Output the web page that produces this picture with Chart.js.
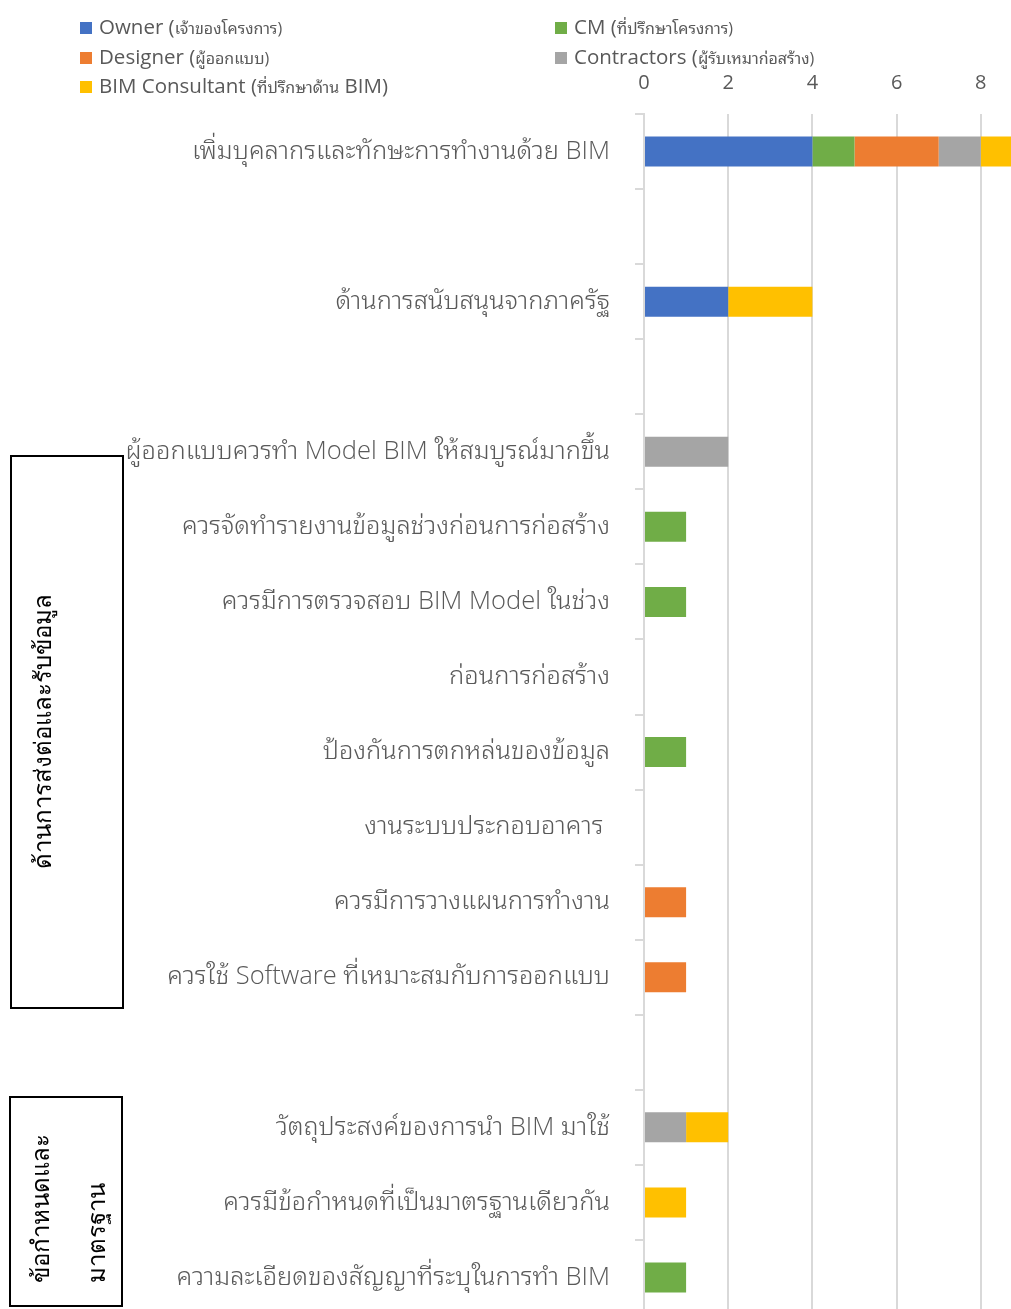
<!DOCTYPE html>
<html>
<head>
<meta charset="utf-8">
<script src="https://cdn.jsdelivr.net/npm/chart.js@4.4.1/dist/chart.umd.min.js"></script>
<style>
  html, body { margin:0; padding:0; background:#fff; }
  body { width:1011px; height:1309px; overflow:hidden; position:relative; font-family:"Open Sans","Noto Sans",sans-serif; }
  #wrap { position:absolute; left:0; top:0; width:1065px; height:1315px; }
  .leg { position:absolute; font-size:20.5px; color:#595959; white-space:nowrap; line-height:24px; }
  .leg .sw { display:inline-block; width:12px; height:12px; margin-right:7px; vertical-align:0px; }
  .leg small { font-size:16px; font-family:"Open Sans","Noto Sans Thai Looped","Noto Sans Thai",sans-serif; }
  .box { position:absolute; border:2px solid #000; box-sizing:border-box; }
  .rt { position:absolute; font-size:24px; line-height:32px; color:#000; white-space:nowrap; transform-origin:0 0; font-family:"Noto Sans","Open Sans",sans-serif; }
</style>
</head>
<body>
<div id="wrap"><canvas id="c"></canvas></div>
<div id="legend"></div>
<div class="box" style="left:10px;top:455px;width:114px;height:554px;"></div>
<div class="rt" id="t1" style="left:26px;top:731px;transform:rotate(-90deg) translateX(-50%);">ด้านการส่งต่อและรับข้อมูล</div>
<div class="box" style="left:9px;top:1096px;width:114px;height:211px;"></div>
<div class="rt" style="left:24px;top:1283px;transform:rotate(-90deg);">ข้อกำหนดและ</div>
<div class="rt" style="left:80px;top:1283px;transform:rotate(-90deg);">มาตรฐาน</div>
<script>
const categories = [
  'เพิ่มบุคลากรและทักษะการทำงานด้วย BIM',
  '',
  'ด้านการสนับสนุนจากภาครัฐ',
  '',
  'ผู้ออกแบบควรทำ Model BIM ให้สมบูรณ์มากขึ้น',
  'ควรจัดทำรายงานข้อมูลช่วงก่อนการก่อสร้าง',
  'ควรมีการตรวจสอบ BIM Model ในช่วง',
  'ก่อนการก่อสร้าง',
  'ป้องกันการตกหล่นของข้อมูล',
  'งานระบบประกอบอาคาร ',
  'ควรมีการวางแผนการทำงาน',
  'ควรใช้ Software ที่เหมาะสมกับการออกแบบ',
  '',
  'วัตถุประสงค์ของการนำ BIM มาใช้',
  'ควรมีข้อกำหนดที่เป็นมาตรฐานเดียวกัน',
  'ความละเอียดของสัญญาที่ระบุในการทำ BIM'
];
const seriesNames = ['Owner', 'CM', 'Designer', 'Contractors', 'BIM Consultant'];
const seriesThai = ['(เจ้าของโครงการ)', '(ที่ปรึกษาโครงการ)', '(ผู้ออกแบบ)', '(ผู้รับเหมาก่อสร้าง)', '(ที่ปรึกษาด้าน BIM)'];
const ownerValues      = [4, null, 2, null, null, null, null, null, null, null, null, null, null, null, null, null];
const cmValues         = [1, null, null, null, null, 1, 1, null, 1, null, null, null, null, null, null, 1];
const designerValues   = [2, null, null, null, null, null, null, null, null, null, 1, 1, null, null, null, null];
const contractorValues = [1, null, null, null, 2, null, null, null, null, null, null, null, null, 1, null, null];
const bimValues        = [1, null, 2, null, null, null, null, null, null, null, null, null, null, 1, 1, null];
const xTicks = [0, 2, 4, 6, 8, 10];
const colors = ['#4472C4', '#70AD47', '#ED7D31', '#A5A5A5', '#FFC000'];

// legend (HTML)
const legendPos = [[80, 14], [555, 14], [80, 44], [555, 44], [80, 73]];
const legEl = document.getElementById('legend');
seriesNames.forEach((name, i) => {
  const d = document.createElement('div');
  d.className = 'leg';
  d.style.left = legendPos[i][0] + 'px';
  d.style.top = legendPos[i][1] + 'px';
  let html;
  if (i === 4) {
    html = name + ' (<small>ที่ปรึกษาด้าน</small> BIM)';
  } else {
    html = name + ' (<small>' + seriesThai[i].slice(1) + '</small>';
  }
  d.innerHTML = '<span class="sw" style="background:' + colors[i] + '"></span>' + html;
  legEl.appendChild(d);
});

const allValues = [ownerValues, cmValues, designerValues, contractorValues, bimValues];
const datasets = allValues.map((vals, i) => ({
  label: seriesNames[i],
  data: vals,
  backgroundColor: colors[i],
  borderWidth: 0,
  barPercentage: 0.4,
  categoryPercentage: 1.0
}));

new Chart(document.getElementById('c'), {
  type: 'bar',
  data: { labels: categories, datasets },
  options: {
    indexAxis: 'y',
    responsive: true,
    maintainAspectRatio: false,
    animation: false,
    layout: { padding: 0 },
    plugins: { legend: { display: false }, tooltip: { enabled: false } },
    scales: {
      x: {
        position: 'top',
        stacked: true,
        min: 0,
        max: 10,
        afterBuildTicks: (s) => { s.ticks = xTicks.map(v => ({ value: v })); },
        afterFit: (s) => { s.height = 114; s.paddingLeft = 0; s.paddingRight = 0; },
        ticks: {
          font: { size: 20, family: '"Open Sans","Noto Sans",sans-serif' },
          color: '#595959',
          padding: 19,
          maxRotation: 0,
          callback: (v) => (v === 10 ? '' : String(v))
        },
        grid: { color: '#d9d9d9', lineWidth: 2, drawTicks: false },
        border: { display: false }
      },
      y: {
        stacked: true,
        offset: true,
        afterFit: (s) => { s.width = 644; s.paddingTop = 0; s.paddingBottom = 0; },
        ticks: {
          autoSkip: false,
          font: { size: 25.5, family: '"Open Sans","Noto Sans Thai Looped","Noto Sans Thai","Noto Sans",sans-serif', weight: '300' },
          color: '#595959',
          padding: 25
        },
        grid: { drawOnChartArea: false, drawTicks: true, tickLength: 9, color: '#d9d9d9', lineWidth: 2, offset: true },
        border: { display: true, color: '#d9d9d9', width: 2 }
      }
    }
  }
});
</script>
</body>
</html>
